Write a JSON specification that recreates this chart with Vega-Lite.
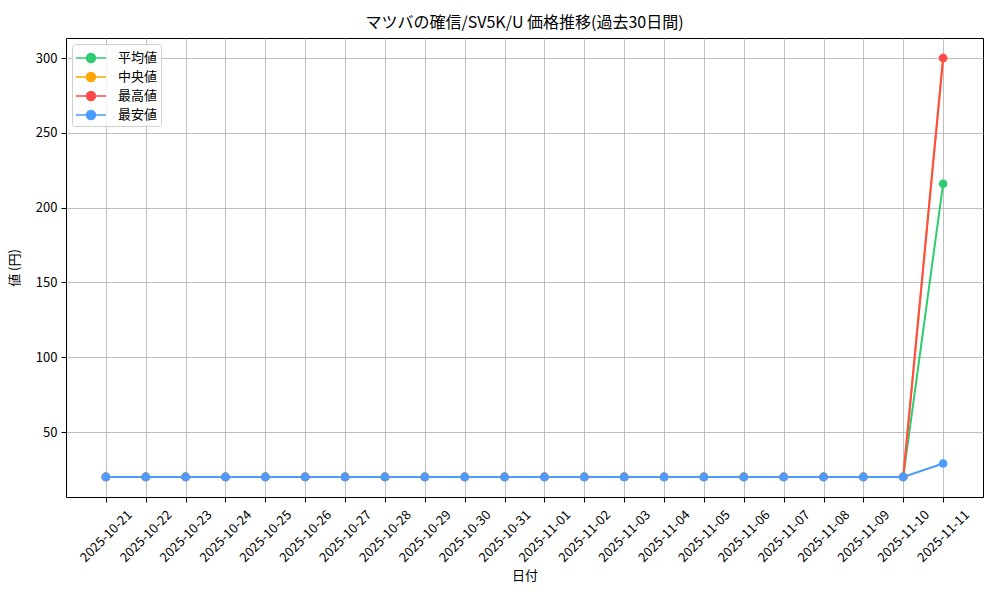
{
  "$schema": "https://vega.github.io/schema/vega-lite/v6.json",
  "width": 917,
  "height": 459,
  "autosize": {"type": "none"},
  "padding": {"left": 66, "top": 38, "right": 17, "bottom": 103},
  "background": "white",
  "title": {
    "text": "マツバの確信/SV5K/U 価格推移(過去30日間)",
    "font": "Noto Sans CJK JP",
    "fontSize": 16,
    "fontWeight": "normal",
    "color": "black",
    "offset": 7
  },
  "config": {
    "font": "Noto Sans CJK JP",
    "view": {"stroke": "black", "strokeWidth": 1},
    "axis": {
      "domain": false,
      "grid": true,
      "gridColor": "#b0b0b0",
      "gridWidth": 0.8,
      "tickColor": "black",
      "tickSize": 5,
      "labelFont": "Noto Sans CJK JP",
      "labelFontSize": 13,
      "labelColor": "black",
      "titleFont": "Noto Sans CJK JP",
      "titleFontSize": 13,
      "titleFontWeight": "normal",
      "titleColor": "black"
    }
  },
  "data": {
    "values": [
      {"date": "2025-10-21", "series": "平均値", "value": 20},
      {"date": "2025-10-22", "series": "平均値", "value": 20},
      {"date": "2025-10-23", "series": "平均値", "value": 20},
      {"date": "2025-10-24", "series": "平均値", "value": 20},
      {"date": "2025-10-25", "series": "平均値", "value": 20},
      {"date": "2025-10-26", "series": "平均値", "value": 20},
      {"date": "2025-10-27", "series": "平均値", "value": 20},
      {"date": "2025-10-28", "series": "平均値", "value": 20},
      {"date": "2025-10-29", "series": "平均値", "value": 20},
      {"date": "2025-10-30", "series": "平均値", "value": 20},
      {"date": "2025-10-31", "series": "平均値", "value": 20},
      {"date": "2025-11-01", "series": "平均値", "value": 20},
      {"date": "2025-11-02", "series": "平均値", "value": 20},
      {"date": "2025-11-03", "series": "平均値", "value": 20},
      {"date": "2025-11-04", "series": "平均値", "value": 20},
      {"date": "2025-11-05", "series": "平均値", "value": 20},
      {"date": "2025-11-06", "series": "平均値", "value": 20},
      {"date": "2025-11-07", "series": "平均値", "value": 20},
      {"date": "2025-11-08", "series": "平均値", "value": 20},
      {"date": "2025-11-09", "series": "平均値", "value": 20},
      {"date": "2025-11-10", "series": "平均値", "value": 20},
      {"date": "2025-11-11", "series": "平均値", "value": 216},
      {"date": "2025-10-21", "series": "中央値", "value": 20},
      {"date": "2025-10-22", "series": "中央値", "value": 20},
      {"date": "2025-10-23", "series": "中央値", "value": 20},
      {"date": "2025-10-24", "series": "中央値", "value": 20},
      {"date": "2025-10-25", "series": "中央値", "value": 20},
      {"date": "2025-10-26", "series": "中央値", "value": 20},
      {"date": "2025-10-27", "series": "中央値", "value": 20},
      {"date": "2025-10-28", "series": "中央値", "value": 20},
      {"date": "2025-10-29", "series": "中央値", "value": 20},
      {"date": "2025-10-30", "series": "中央値", "value": 20},
      {"date": "2025-10-31", "series": "中央値", "value": 20},
      {"date": "2025-11-01", "series": "中央値", "value": 20},
      {"date": "2025-11-02", "series": "中央値", "value": 20},
      {"date": "2025-11-03", "series": "中央値", "value": 20},
      {"date": "2025-11-04", "series": "中央値", "value": 20},
      {"date": "2025-11-05", "series": "中央値", "value": 20},
      {"date": "2025-11-06", "series": "中央値", "value": 20},
      {"date": "2025-11-07", "series": "中央値", "value": 20},
      {"date": "2025-11-08", "series": "中央値", "value": 20},
      {"date": "2025-11-09", "series": "中央値", "value": 20},
      {"date": "2025-11-10", "series": "中央値", "value": 20},
      {"date": "2025-11-11", "series": "中央値", "value": 300},
      {"date": "2025-10-21", "series": "最高値", "value": 20},
      {"date": "2025-10-22", "series": "最高値", "value": 20},
      {"date": "2025-10-23", "series": "最高値", "value": 20},
      {"date": "2025-10-24", "series": "最高値", "value": 20},
      {"date": "2025-10-25", "series": "最高値", "value": 20},
      {"date": "2025-10-26", "series": "最高値", "value": 20},
      {"date": "2025-10-27", "series": "最高値", "value": 20},
      {"date": "2025-10-28", "series": "最高値", "value": 20},
      {"date": "2025-10-29", "series": "最高値", "value": 20},
      {"date": "2025-10-30", "series": "最高値", "value": 20},
      {"date": "2025-10-31", "series": "最高値", "value": 20},
      {"date": "2025-11-01", "series": "最高値", "value": 20},
      {"date": "2025-11-02", "series": "最高値", "value": 20},
      {"date": "2025-11-03", "series": "最高値", "value": 20},
      {"date": "2025-11-04", "series": "最高値", "value": 20},
      {"date": "2025-11-05", "series": "最高値", "value": 20},
      {"date": "2025-11-06", "series": "最高値", "value": 20},
      {"date": "2025-11-07", "series": "最高値", "value": 20},
      {"date": "2025-11-08", "series": "最高値", "value": 20},
      {"date": "2025-11-09", "series": "最高値", "value": 20},
      {"date": "2025-11-10", "series": "最高値", "value": 20},
      {"date": "2025-11-11", "series": "最高値", "value": 300},
      {"date": "2025-10-21", "series": "最安値", "value": 20},
      {"date": "2025-10-22", "series": "最安値", "value": 20},
      {"date": "2025-10-23", "series": "最安値", "value": 20},
      {"date": "2025-10-24", "series": "最安値", "value": 20},
      {"date": "2025-10-25", "series": "最安値", "value": 20},
      {"date": "2025-10-26", "series": "最安値", "value": 20},
      {"date": "2025-10-27", "series": "最安値", "value": 20},
      {"date": "2025-10-28", "series": "最安値", "value": 20},
      {"date": "2025-10-29", "series": "最安値", "value": 20},
      {"date": "2025-10-30", "series": "最安値", "value": 20},
      {"date": "2025-10-31", "series": "最安値", "value": 20},
      {"date": "2025-11-01", "series": "最安値", "value": 20},
      {"date": "2025-11-02", "series": "最安値", "value": 20},
      {"date": "2025-11-03", "series": "最安値", "value": 20},
      {"date": "2025-11-04", "series": "最安値", "value": 20},
      {"date": "2025-11-05", "series": "最安値", "value": 20},
      {"date": "2025-11-06", "series": "最安値", "value": 20},
      {"date": "2025-11-07", "series": "最安値", "value": 20},
      {"date": "2025-11-08", "series": "最安値", "value": 20},
      {"date": "2025-11-09", "series": "最安値", "value": 20},
      {"date": "2025-11-10", "series": "最安値", "value": 20},
      {"date": "2025-11-11", "series": "最安値", "value": 29}
    ]
  },
  "mark": {"type": "line", "strokeWidth": 2, "point": {"size": 75, "filled": true, "opacity": 1}},
  "encoding": {
    "x": {
      "field": "date",
      "type": "ordinal",
      "sort": null,
      "scale": {"type": "point", "padding": 1},
      "axis": {
        "title": "日付",
        "labelAngle": -45,
        "labelAlign": "center",
        "labelBaseline": "middle",
        "labelPadding": 34,
        "titlePadding": 5
      }
    },
    "y": {
      "field": "value",
      "type": "quantitative",
      "scale": {"domain": [6.6, 313.4], "nice": false, "zero": false},
      "axis": {
        "title": "値 (円)",
        "values": [50, 100, 150, 200, 250, 300],
        "labelPadding": 4,
        "titlePadding": 14
      }
    },
    "color": {
      "field": "series",
      "type": "nominal",
      "sort": ["平均値", "中央値", "最高値", "最安値"],
      "scale": {
        "domain": ["平均値", "中央値", "最高値", "最安値"],
        "range": ["#2ecc71", "#ffa500", "#ff4b4b", "#4c9bff"]
      },
      "legend": {
        "title": null,
        "orient": "top-left",
        "offset": 6,
        "symbolType": "M-1.5,0H1.5M-0.45,0A0.45,0.45,0,1,1,0.45,0A0.45,0.45,0,1,1,-0.45,0Z",
        "symbolSize": 400,
        "symbolStrokeWidth": 1.5,
        "symbolOffset": 5,
        "labelOffset": 16,
        "labelFontSize": 13,
        "labelFont": "Noto Sans CJK JP",
        "labelColor": "black",
        "rowPadding": 0,
        "padding": 3,
        "fillColor": "rgba(255,255,255,0.8)",
        "strokeColor": "#d0d0d0",
        "cornerRadius": 3,
        "encode": {
          "symbols": {"update": {"fill": {"scale": "color", "field": "value"}, "fillOpacity": {"value": 1}}}
        }
      }
    }
  }
}
